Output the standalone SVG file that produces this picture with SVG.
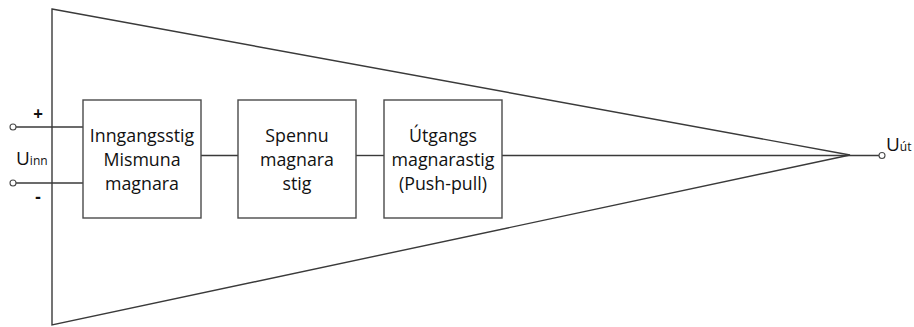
<svg xmlns="http://www.w3.org/2000/svg" width="914" height="327" viewBox="0 0 914 327">
<style>
.ln{stroke:#3a3a3a;stroke-width:1.4;fill:none}
.box{fill:#fff;stroke:#4a4a4a;stroke-width:1.4}
.term{fill:#fff;stroke:#4a4a4a;stroke-width:1.1}
.t{font-family:"Open Sans",sans-serif;font-size:17.8px;fill:#111;text-anchor:middle}
.lbl{font-family:"Open Sans",sans-serif;fill:#111}
</style>
<rect width="914" height="327" fill="#fff"/>
<g id="amplifier">
<polygon class="ln" points="52,9 850,155 52,325"/>
</g>
<g id="connectors">
<line class="ln" x1="16" y1="127" x2="83" y2="127"/>
<line class="ln" x1="16" y1="183" x2="83" y2="183"/>
<line class="ln" x1="201" y1="155.5" x2="238" y2="155.5"/>
<line class="ln" x1="356" y1="155.5" x2="384" y2="155.5"/>
<line class="ln" x1="502" y1="155.5" x2="879" y2="155.5"/>
</g>
<g id="input">
<circle class="term" cx="13" cy="127" r="3"/>
<circle class="term" cx="13" cy="183" r="3"/>
<text class="lbl" x="38" y="120" font-size="17" font-weight="bold" text-anchor="middle">+</text>
<text class="lbl" x="38" y="203" font-size="17" font-weight="bold" text-anchor="middle">-</text>
<text class="lbl" x="16" y="165" font-size="19">U<tspan font-size="12">inn</tspan></text>
</g>
<g id="stage1">
<rect class="box" x="83" y="100" width="118" height="118"/>
<text class="t" x="142" y="142">Inngangsstig</text>
<text class="t" x="142" y="166">Mismuna</text>
<text class="t" x="142" y="190">magnara</text>
</g>
<g id="stage2">
<rect class="box" x="238" y="100" width="118" height="118"/>
<text class="t" x="297" y="142">Spennu</text>
<text class="t" x="297" y="166">magnara</text>
<text class="t" x="297" y="190">stig</text>
</g>
<g id="stage3">
<rect class="box" x="384" y="100" width="118" height="118"/>
<text class="t" x="443" y="142">Útgangs</text>
<text class="t" x="443" y="166">magnarastig</text>
<text class="t" x="443" y="190">(Push-pull)</text>
</g>
<g id="output">
<circle class="term" cx="882" cy="155.5" r="3"/>
<text class="lbl" x="886" y="151" font-size="19">U<tspan font-size="12">út</tspan></text>
</g>
</svg>
